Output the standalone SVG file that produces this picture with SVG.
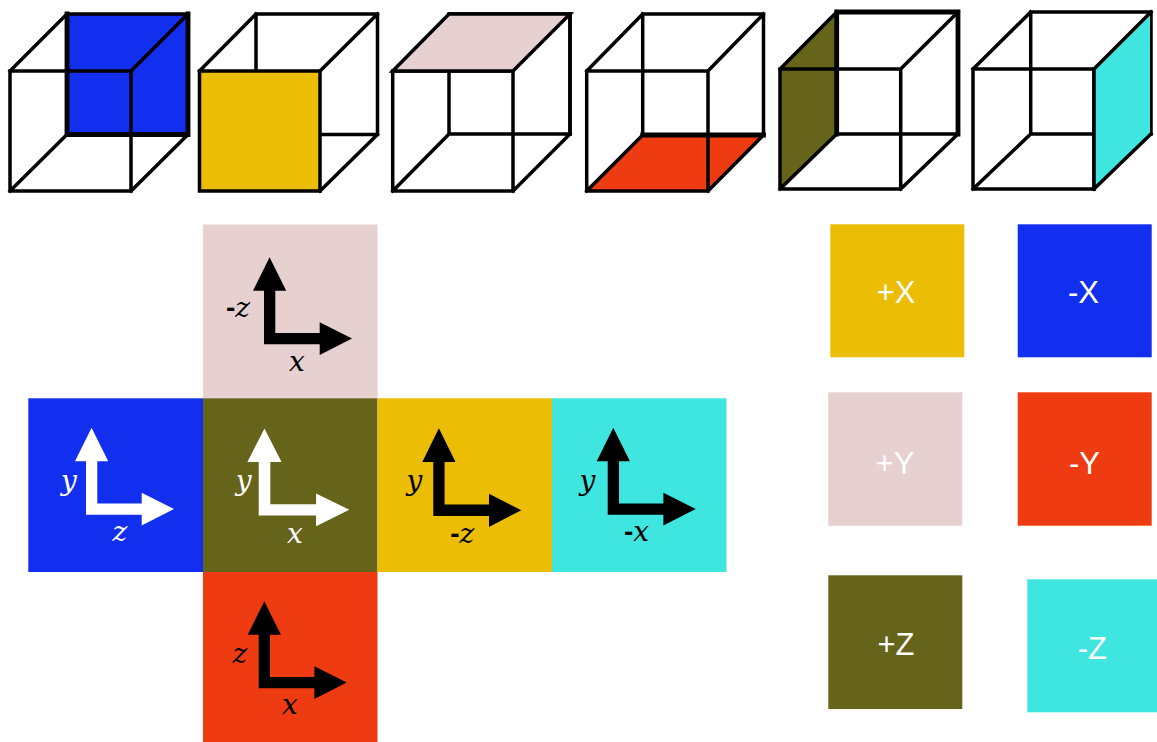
<svg xmlns="http://www.w3.org/2000/svg" xmlns:xlink="http://www.w3.org/1999/xlink" width="1157" height="742" viewBox="0 0 1157 742">
<style>
.e{fill:none;stroke:#000;stroke-width:3.5;stroke-linejoin:miter;stroke-linecap:square}
.t{stroke:#000;stroke-width:4.8;stroke-linejoin:miter;stroke-linecap:square}
.blue{fill:#122EEE}.yellow{fill:#EBBD05}.pink{fill:#E6D0D0}.red{fill:#EE3B12}.olive{fill:#66631B}.cyan{fill:#3EE6DF}
.lab{font-family:"Liberation Sans",Arial,sans-serif;font-size:31px;fill:#fff;text-anchor:middle}
.ax{font-family:"DejaVu Serif",serif;font-style:italic;font-size:28px;text-anchor:middle}
.m{font-family:"Liberation Sans",Arial,sans-serif;font-style:normal;font-weight:bold}
.w{fill:#fff;color:#fff}.k{fill:#000;color:#000}
</style>
<defs>
<path id="axes" d="M0 0V-53.5H-11L5.6-87L22.2-53.5H11.3V-11.3H55.7V-22L88-5.7L55.7 10.8V0Z" fill="currentColor"/>
</defs>

<g id="cube-neg-x">
<rect class="blue" x="67" y="14" width="121" height="120.500"/>
<path class="e" d="M10 71H131V191H10ZM67 14H188V134.500H67ZM10 71L67 14M131 71L188 14M10 191L67 134.500M131 191L188 134.500"/>
<path class="t" fill="none" d="M67 14V134.500H188V14"/>
</g>
<g id="cube-pos-x">
<path class="e" d="M256 14H377.500V134.500H256ZM199.500 71L256 14M320 71L377.500 14M320 191L377.500 134.500"/>
<rect class="yellow" x="199.500" y="71" width="120.500" height="120"/>
<path class="e" d="M199.500 71H320V191H199.500Z"/>
</g>
<g id="cube-pos-y">
<path class="e" d="M449 14H570V134H449ZM392.700 191L449 134M513 191L570 134M392.700 71H513V191H392.700Z"/>
<polygon class="pink" points="392.700,71 449,14 570,14 513,71"/>
<path class="e" d="M392.700 71L449 14H570L513 71H392.700Z"/>
<path class="e" d="M570 14V134"/>
</g>
<g id="cube-neg-y">
<polygon class="red" points="586.700,191 642.700,135 763.500,135 708,191"/>
<path class="e" d="M642.700 14H763.500V135H642.700ZM586.700 71H708V191H586.700ZM586.700 71L642.700 14M708 71L763.500 14M586.700 191L642.700 135M708 191L763.500 135"/>
<path class="t" fill="none" d="M642.700 135H763.500"/>
</g>
<g id="cube-pos-z">
<polygon class="olive" points="780,69 836.700,12 836.700,134 780,189"/>
<path class="e" d="M836.700 12H958V134H836.700ZM780 69H900.700V189H780ZM780 69L836.700 12M900.700 69L958 12M780 189L836.700 134M900.700 189L958 134"/>
<path class="t" fill="none" d="M836.700 134V12H958V134"/>
</g>
<g id="cube-neg-z">
<path class="e" d="M1030.700 12H1151V134H1030.700ZM973 69H1094V189H973ZM973 69L1030.700 12M973 189L1030.700 134"/>
<polygon class="cyan" points="1094,69 1151,12 1151,134 1094,189"/>
<path class="e" d="M1094 69L1151 12M1094 69V189M1094 189L1151 134"/>
<path d="M1151 12V134" fill="none" stroke="#000" stroke-width="2"/>
</g>

<g id="net-pos-y">
<rect class="pink" x="203" y="224.500" width="174.500" height="174"/>
<use class="k" xlink:href="#axes" href="#axes" x="264" y="344.300"/>
<text class="ax k" x="238" y="316.500"><tspan class="m">-</tspan>z</text>
<text class="ax k" x="297" y="371">x</text>
</g>
<g id="net-neg-x">
<rect class="blue" x="28.300" y="398.300" width="174.700" height="173.700"/>
<use class="w" xlink:href="#axes" href="#axes" x="86" y="514.700"/>
<text class="ax w" x="69" y="490">y</text>
<text class="ax w" x="120" y="541">z</text>
</g>
<g id="net-pos-z">
<rect class="olive" x="203" y="398.300" width="174.500" height="173.700"/>
<use class="w" xlink:href="#axes" transform="translate(258.700 515.500) scale(1.03 1)" href="#axes"/>
<text class="ax w" x="243.700" y="490">y</text>
<text class="ax w" x="295" y="543">x</text>
</g>
<g id="net-pos-x">
<rect class="yellow" x="377.500" y="398.300" width="174.500" height="173.700"/>
<use class="k" xlink:href="#axes" transform="translate(433.300 516) scale(1 1.01)" href="#axes"/>
<text class="ax k" x="414.500" y="490">y</text>
<text class="ax k" x="462.300" y="542.500"><tspan class="m">-</tspan>z</text>
</g>
<g id="net-neg-z">
<rect class="cyan" x="552" y="398.300" width="174.500" height="173.700"/>
<use class="k" xlink:href="#axes" href="#axes" x="607.700" y="514.700"/>
<text class="ax k" x="587.500" y="490">y</text>
<text class="ax k" x="636.500" y="540.500"><tspan class="m">-</tspan>x</text>
</g>
<g id="net-neg-y">
<rect class="red" x="203" y="572" width="174.500" height="170"/>
<use class="k" xlink:href="#axes" href="#axes" x="258.700" y="688.300"/>
<text class="ax k" x="240" y="662.500">z</text>
<text class="ax k" x="290" y="714">x</text>
</g>

<g id="key-pos-x"><rect class="yellow" x="830.300" y="224.300" width="134" height="133"/><text class="lab" x="896" y="303">+X</text></g>
<g id="key-neg-x"><rect class="blue" x="1017.700" y="224.300" width="134" height="133"/><text class="lab" x="1083.500" y="303">-X</text></g>
<g id="key-pos-y"><rect class="pink" x="828.300" y="392.300" width="134" height="133.400"/><text class="lab" x="895" y="474">+Y</text></g>
<g id="key-neg-y"><rect class="red" x="1017.700" y="392.300" width="134" height="133.400"/><text class="lab" x="1084.500" y="474">-Y</text></g>
<g id="key-pos-z"><rect class="olive" x="828.300" y="575.300" width="134" height="133.700"/><text class="lab" x="896" y="655">+Z</text></g>
<g id="key-neg-z"><rect class="cyan" x="1027.300" y="579.300" width="130" height="133"/><text class="lab" x="1092.300" y="658.700">-Z</text></g>
</svg>
